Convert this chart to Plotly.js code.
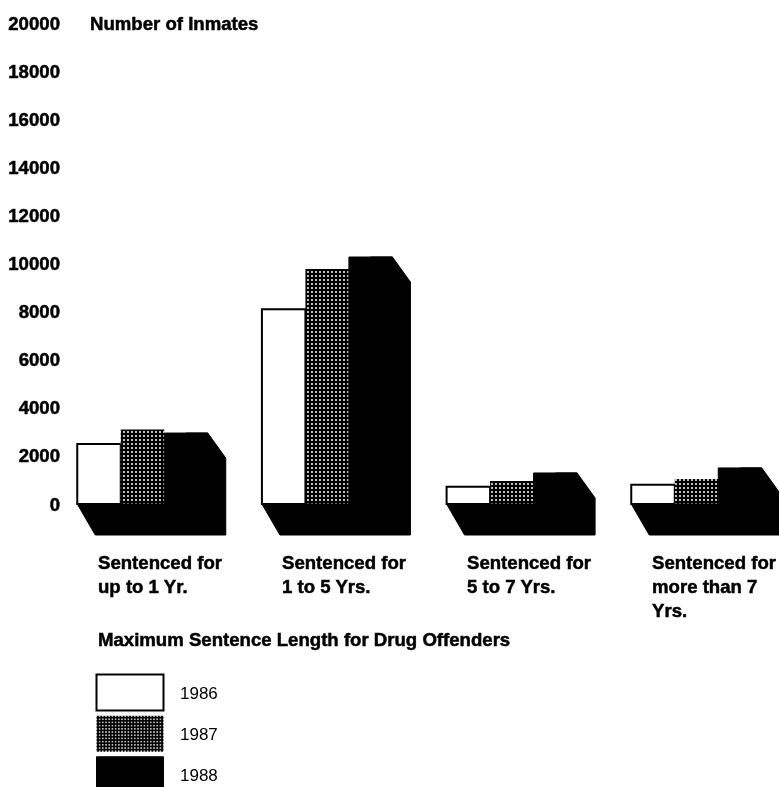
<!DOCTYPE html>
<html><head><meta charset="utf-8">
<script src="https://cdn.plot.ly/plotly-3.0.1.min.js"></script>
<style>html,body{margin:0;padding:0;background:#fff}
#chart{filter:blur(0.5px)}
#chart .annotation text,#chart .ytick text{stroke:#000;stroke-width:0.5px}</style></head>
<body><div id="chart" style="width:779px;height:787px"></div>
<script>
const groupIndex = [0, 1, 2, 3];
const categories = ["Sentenced for<br>up to 1 Yr.", "Sentenced for<br>1 to 5 Yrs.", "Sentenced for<br>5 to 7 Yrs.", "Sentenced for<br>more than 7<br>Yrs."];
const years = ["1986", "1987", "1988"];
const values1986 = [2500, 8100, 720, 800];
const values1987 = [3100, 9770, 960, 1040];
const values1988 = [2950, 10270, 1290, 1500];
const yTicks = [0, 2000, 4000, 6000, 8000, 10000, 12000, 14000, 16000, 18000, 20000];
const yTitle = "Number of Inmates";
const xTitle = "Maximum Sentence Length for Drug Offenders";

const FONT = '"Liberation Sans", Arial, sans-serif';
const W = 779, H = 787, ML = 70, MT = 10;
const PXU = 184.67, PXV = 24.05 / 1000, X0 = 142.5, Y0 = 504;
const xr = [(ML - X0) / PXU, (W - X0) / PXU];
const yr = [(Y0 - H) / PXV, (Y0 - MT) / PXV];
const barW = 43.5 / PXU;
const DX = 18 / PXU, DY = 31 / PXV, DYT = 25 / PXV;

// black floor and side of the pseudo-3D block, derived from the 1988 values
const sx = [], sy = [];
groupIndex.forEach((g, i) => {
  const l = g - 1.5 * barW, r = g + 1.5 * barW, t = values1988[i], inner = r - barW / 2;
  sx.push(l, l + DX, r + DX, r + DX, r, inner, inner, l, null);
  sy.push(0, -DY, -DY, t - DYT, t, t, 0, 0, null);
});

const common = {type: 'bar', x: groupIndex, cliponaxis: false};
const traces = [
  {x: sx, y: sy, type: 'scatter', mode: 'lines', fill: 'toself', fillcolor: '#000',
   line: {color: '#000', width: 1}, showlegend: false, hoverinfo: 'skip'},
  Object.assign({}, common, {name: years[0], y: values1986, legendgroup: 'a',
    marker: {color: '#fff', line: {color: '#000', width: 2}}}),
  Object.assign({}, common, {name: years[1], y: values1987, legendgroup: 'b',
    marker: {color: '#000', line: {color: '#000', width: 0},
      pattern: {shape: '.', bgcolor: '#000', fgcolor: '#fff', size: 4, solidity: 0.2, fillmode: 'replace'}}}),
  Object.assign({}, common, {name: years[2], y: values1988, legendgroup: 'c',
    marker: {color: '#000', line: {color: '#000', width: 1}}})
];

const labelFont = {family: FONT, size: 18.6, color: '#000', weight: 700};
const annotations = categories.map((c, i) => ({
  text: c, xref: 'x', yref: 'paper', x: groupIndex[i], xshift: -47,
  y: 1 - (549.5 - MT) / (H - MT), xanchor: 'left', yanchor: 'top', align: 'left',
  showarrow: false, font: labelFont
}));
annotations.push({text: yTitle, xref: 'paper', yref: 'paper',
  x: (88 - ML) / (W - ML), y: 1 - (23 - MT) / (H - MT), xanchor: 'left', yanchor: 'middle', showarrow: false, font: labelFont});
annotations.push({text: xTitle, xref: 'paper', yref: 'paper',
  x: (96 - ML) / (W - ML), y: 1 - (639 - MT) / (H - MT), xanchor: 'left', yanchor: 'middle', showarrow: false, font: labelFont});

const layout = {
  width: W, height: H, paper_bgcolor: '#fff', plot_bgcolor: '#fff',
  margin: {l: ML, r: 0, t: MT, b: 0, autoexpand: false},
  barmode: 'group', bargap: 1 - 3 * barW, bargroupgap: 0,
  font: {family: FONT, color: '#000', size: 14},
  xaxis: {range: xr, showgrid: false, zeroline: false, showline: false, showticklabels: false, ticks: ''},
  yaxis: {range: yr, tickvals: yTicks, ticktext: yTicks.map(String), showgrid: false, zeroline: false,
    showline: false, ticks: '', tickfont: labelFont, ticklabelstandoff: 9},
  showlegend: true,
  legend: {x: (80 - ML) / (W - ML), y: 1 - (675 - MT) / (H - MT), xanchor: 'left', yanchor: 'top',
    itemwidth: 90, tracegroupgap: 16, bgcolor: 'rgba(0,0,0,0)', font: {family: FONT, size: 17, color: '#000'},
    itemclick: false, itemdoubleclick: false},
  annotations
};

Plotly.newPlot('chart', traces, layout, {displayModeBar: false, staticPlot: true}).then(gd => {
  // enlarge the legend swatches to the reference's broad keys
  gd.querySelectorAll('.legend .legendpoints path').forEach(p => {
    p.setAttribute('d', 'M33.5,18H-33.5V-18H33.5Z');
  });
  gd.querySelectorAll('.legend [clip-path], .legend .scrollbox').forEach(n => {
    n.removeAttribute('clip-path');
    n.style.clipPath = 'none';
  });
});
</script></body></html>
